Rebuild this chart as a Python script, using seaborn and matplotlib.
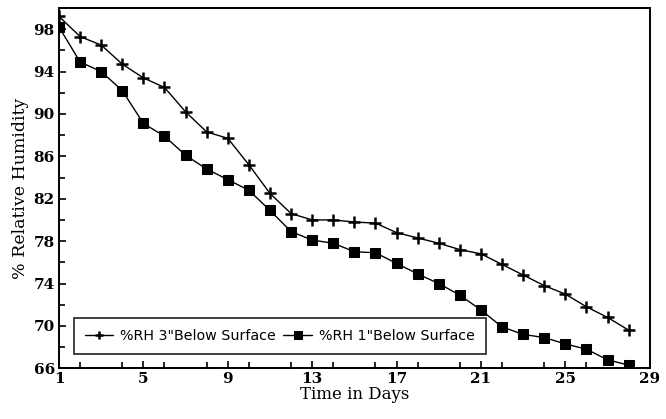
import matplotlib
matplotlib.use("Agg")
import matplotlib.pyplot as plt
import seaborn as sns
import pandas as pd
from matplotlib.ticker import MultipleLocator

days = list(range(1, 29))
rh_3in = [99.2, 97.3, 96.5, 94.7, 93.4, 92.5, 90.2, 88.3, 87.7, 85.2, 82.5, 80.6,
          80.0, 80.0, 79.8, 79.7, 78.8, 78.3, 77.8, 77.2, 76.8, 75.8, 74.8, 73.8,
          73.0, 71.8, 70.8, 69.6]
rh_1in = [98.2, 94.9, 94.0, 92.2, 89.1, 87.9, 86.1, 84.8, 83.8, 82.8, 80.9, 78.9,
          78.1, 77.8, 77.0, 76.9, 75.9, 74.9, 74.0, 72.9, 71.5, 69.9, 69.2, 68.9,
          68.3, 67.8, 66.8, 66.3]
labels = ['%RH 3"Below Surface', '%RH 1"Below Surface']
x_ticks = [1, 5, 9, 13, 17, 21, 25, 29]
y_ticks = [66, 70, 74, 78, 82, 86, 90, 94, 98]

df = pd.DataFrame({
    "day": days * 2,
    "rh": rh_3in + rh_1in,
    "series": [labels[0]] * len(days) + [labels[1]] * len(days),
})

sns.set_style("ticks")
plt.rcParams.update({"text.color": "black", "axes.labelcolor": "black",
                     "xtick.color": "black", "ytick.color": "black"})
fig = plt.figure(figsize=(6.66, 4.19), dpi=100)
ax = fig.add_axes([0.0886, 0.121, 0.887, 0.86])

sns.lineplot(data=df, x="day", y="rh", hue="series", style="series",
             palette=["black", "black"], markers=["P", "s"], dashes=False,
             markersize=8, linewidth=1.0, ax=ax, legend=False)
lines = ax.get_lines()
lines[0].set_marker("+")
lines[0].set_markersize(9)
lines[0].set_markeredgewidth(1.8)
lines[0].set_markeredgecolor("black")
lines[1].set_marker("s")
lines[1].set_markersize(7.5)
lines[1].set_markerfacecolor("black")
lines[1].set_markeredgecolor("black")

ax.set_xlim(1, 29)
ax.set_ylim(66, 100)
ax.set_xticks(x_ticks)
ax.set_yticks(y_ticks)
ax.xaxis.set_minor_locator(MultipleLocator(2))
ax.yaxis.set_minor_locator(MultipleLocator(2))
ax.tick_params(axis="both", which="major", direction="in", length=5, width=1.2,
               labelsize=11, pad=3, colors="black")
ax.tick_params(axis="both", which="minor", direction="in", length=4, width=1.2)
for lab in ax.get_xticklabels() + ax.get_yticklabels():
    lab.set_fontfamily("DejaVu Serif")
    lab.set_fontweight("bold")

for sp in ax.spines.values():
    sp.set_visible(True)
    sp.set_color("black")
    sp.set_linewidth(1.4)

ax.set_xlabel("Time in Days", fontfamily="DejaVu Serif", fontsize=12, labelpad=0)
ax.set_ylabel("% Relative Humidity", fontfamily="DejaVu Serif", fontsize=12.5, labelpad=3)

leg = ax.legend(lines, labels, ncol=2, loc="lower left",
                bbox_to_anchor=(0.013, 0.02), frameon=True, fancybox=False,
                handlelength=2.0, columnspacing=0.5, handletextpad=0.5,
                borderpad=0.75, markerscale=0.7,
                prop={"family": "DejaVu Sans", "size": 10.3})
leg.get_frame().set_edgecolor("black")
leg.get_frame().set_linewidth(1.3)

fig.savefig("out.png", dpi=100)
